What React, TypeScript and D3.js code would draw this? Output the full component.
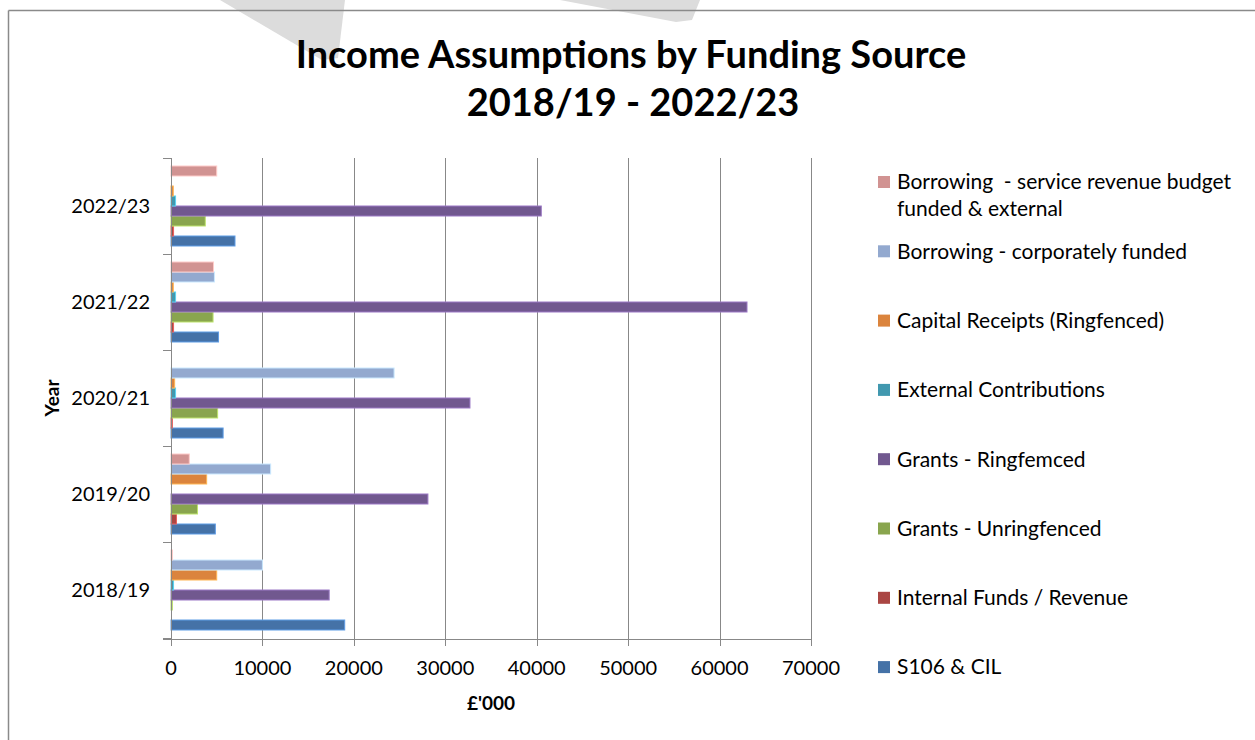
import React from "react";
import * as d3 from "d3";

const years = ["2018/19", "2019/20", "2020/21", "2021/22", "2022/23"];

const seriesNames = [
  "S106 & CIL",
  "Internal Funds / Revenue",
  "Grants - Unringfenced",
  "Grants - Ringfemced",
  "External Contributions",
  "Capital Receipts (Ringfenced)",
  "Borrowing - corporately funded",
  "Borrowing  - service revenue budget funded & external",
];

const seriesColors = [
  "#4572A7",
  "#AA4643",
  "#89A54E",
  "#71588F",
  "#4198AF",
  "#DB843D",
  "#93A9CF",
  "#D19392",
];

// values per series, by year (2018/19 .. 2022/23), £'000
const s106 = [19000, 4850, 5700, 5200, 7000];
const internalFunds = [0, 600, 150, 280, 280];
const grantsUnring = [150, 2900, 5100, 4600, 3750];
const grantsRing = [17300, 28100, 32700, 63000, 40500];
const externalContrib = [280, 0, 500, 500, 500];
const capitalReceipts = [5000, 3900, 400, 250, 250];
const borrowingCorp = [10000, 10900, 24400, 4750, 0];
const borrowingService = [150, 2000, 0, 4650, 5000];

const seriesValues = [
  s106,
  internalFunds,
  grantsUnring,
  grantsRing,
  externalContrib,
  capitalReceipts,
  borrowingCorp,
  borrowingService,
];

const xTicks = [0, 10000, 20000, 30000, 40000, 50000, 60000, 70000];

const FONT = "Lato, 'Open Sans', sans-serif";

export default function App() {
  const W = 1255;
  const H = 740;
  const x = d3.scaleLinear().domain([0, 70000]).range([171, 811]);
  const y = d3
    .scaleBand<string>()
    .domain([...years].reverse())
    .range([158, 638])
    .paddingInner(0)
    .paddingOuter(0);
  const topToBottom = d3.range(seriesNames.length).reverse();
  const inner = d3
    .scaleBand<number>()
    .domain(topToBottom)
    .range([0, y.bandwidth()])
    .paddingInner(0)
    .paddingOuter(0.8);

  const gridColor = "#888888";
  const legendY0 = 182;
  const legendStep = 69.3;
  const legendLines: string[][] = [
    ["Borrowing  - service revenue budget", "funded & external"],
  ];

  const boundaries = [...years.map((yr) => y(yr) as number), 638];

  return (
    <svg
      width={W}
      height={H}
      style={{ position: "absolute", left: 0, top: 0, background: "#fff" }}
      fontFamily={FONT}
    >
      {/* watermark fragments */}
      <polygon points="220,0 345,0 338,58 322,60" fill="#dcdcdc" />
      <polygon points="560,0 700,0 692,20 676,22" fill="#dcdcdc" />
      {/* frame */}
      <line x1={8.5} y1={10.5} x2={8.5} y2={H} stroke="#8a8a8a" strokeWidth={1.5} />
      <line x1={8.5} y1={10.5} x2={W} y2={10.5} stroke="#8a8a8a" strokeWidth={1.5} />

      {/* title */}
      <text x={631} y={68} textAnchor="middle" fontSize={38} fontWeight="bold" fill="#000">
        Income Assumptions by Funding Source
      </text>
      <text x={633} y={116} textAnchor="middle" fontSize={38} fontWeight="bold" fill="#000">
        2018/19 - 2022/23
      </text>

      {/* gridlines */}
      {xTicks.slice(1).map((t) => (
        <line
          key={"g" + t}
          x1={Math.round(x(t)) + 0.5}
          x2={Math.round(x(t)) + 0.5}
          y1={158}
          y2={639}
          stroke={gridColor}
          strokeWidth={1}
        />
      ))}

      {/* bars */}
      {seriesValues.map((vals, si) =>
        vals.map((v, yi) => {
          if (v <= 0) return null;
          const by = (y(years[yi]) as number) + (inner(si) as number);
          const c = seriesColors[si];
          return (
            <rect
              key={si + "-" + yi}
              x={x(0)}
              y={by}
              width={x(v) - x(0)}
              height={inner.bandwidth()}
              fill={c}
              stroke={d3.color(c)!.brighter(0.9).formatHex()}
              strokeWidth={1}
            />
          );
        })
      )}

      {/* y axis */}
      <line x1={171.5} x2={171.5} y1={158} y2={646} stroke={gridColor} strokeWidth={1} />
      {boundaries.map((b, i) => (
        <line key={"yt" + i} x1={163} x2={171.5} y1={b + 0.5} y2={b + 0.5} stroke={gridColor} strokeWidth={1} />
      ))}
      {years.map((yr) => (
        <text
          key={yr}
          x={150}
          y={(y(yr) as number) + y.bandwidth() / 2}
          dy="0.35em"
          textAnchor="end"
          fontSize={20}
          fill="#000"
        >
          {yr}
        </text>
      ))}

      {/* x axis */}
      <line x1={163} x2={812} y1={639.5} y2={639.5} stroke={gridColor} strokeWidth={1} />
      {xTicks.map((t) => (
        <g key={"xt" + t}>
          <line
            x1={Math.round(x(t)) + 0.5}
            x2={Math.round(x(t)) + 0.5}
            y1={639}
            y2={646}
            stroke={gridColor}
            strokeWidth={1}
          />
          <text x={x(t)} y={668} dy="0.35em" textAnchor="middle" fontSize={20} fill="#000">
            {t}
          </text>
        </g>
      ))}

      {/* axis titles */}
      <text x={491} y={703} dy="0.35em" textAnchor="middle" fontSize={19} fontWeight="bold" fill="#000">
        £'000
      </text>
      <text
        transform="translate(52,398) rotate(-90)"
        dy="0.35em"
        textAnchor="middle"
        fontSize={19}
        fontWeight="bold"
        fill="#000"
      >
        Year
      </text>

      {/* legend */}
      {topToBottom.map((si, li) => {
        const cy = legendY0 + li * legendStep;
        const lines = li === 0 ? legendLines[0] : [seriesNames[si]];
        return (
          <g key={"lg" + si}>
            <rect x={878} y={cy - 6} width={12} height={12} fill={seriesColors[si]} />
            {lines.map((ln, k) => (
              <text
                key={k}
                x={897}
                y={cy + k * 27}
                dy="0.35em"
                fontSize={21}
                fill="#000"
                style={{ whiteSpace: "pre" }}
              >
                {ln}
              </text>
            ))}
          </g>
        );
      })}
    </svg>
  );
}
